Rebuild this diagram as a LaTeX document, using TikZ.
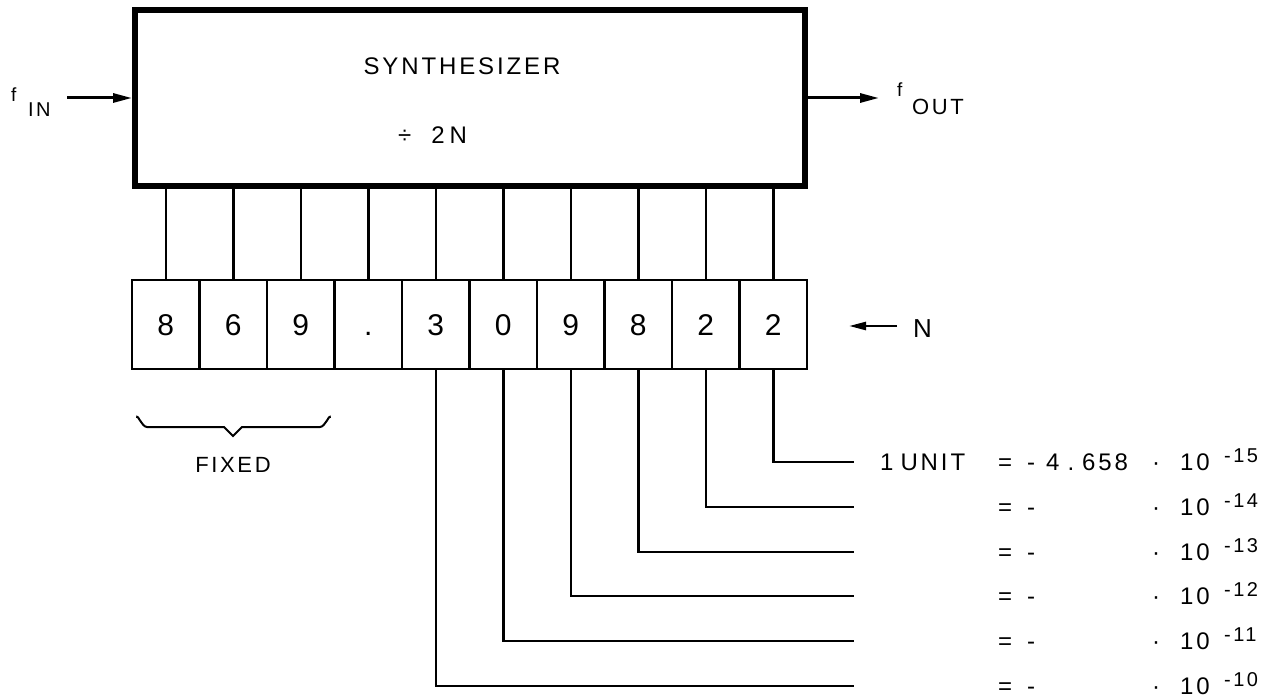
\documentclass[tikz,border=0pt]{standalone}
\usepackage{fontspec}
\setmainfont{Liberation Sans}[LetterSpace=12]
\usetikzlibrary{arrows.meta}

\begin{document}
\begin{tikzpicture}[x=1pt,y=-1pt,
  heavy/.style={draw, line width=6pt, inner sep=0pt,
    minimum width=670pt, minimum height=176pt},
  digitbox/.style={draw, line width=2.5pt, inner sep=0pt,
    minimum width=67.5pt, minimum height=89pt,
    text height=22pt, text depth=0pt,
    font=\fontsize{30}{30}\selectfont},
  wire/.style={line width=2.5pt},
  arr/.style={line width=3pt, -{Triangle[length=19pt,width=9pt]}},
  txt/.style={inner sep=0pt, anchor=base west, font=\fontsize{24}{24}\selectfont},
  suptxt/.style={inner sep=0pt, anchor=base west, font=\fontsize{20}{20}\selectfont},
]
\useasboundingbox (0,0) rectangle (1271,698);

% synthesizer block
\node[heavy] (syn) at (470,98) {};
\node[txt, anchor=base] (title) at (462,75) {SYNTHESIZER};
\node[txt] (div) at (398,143) {÷\kern20pt 2\kern5pt N};

% input and output frequencies
\node[inner sep=0pt, anchor=base west, font=\fontsize{19}{19}\selectfont] (finf) at (11,102) {f};
\node[inner sep=0pt, anchor=base west, font=\fontsize{20}{20}\selectfont] (finsub) at (28,117) {IN};
\coordinate (finstart) at (67,98);
\draw[arr] (finstart) -- (syn.west);

\coordinate (foutend) at (879,98);
\draw[arr] (syn.east) -- (foutend);
\node[inner sep=0pt, anchor=base west, font=\fontsize{19}{19}\selectfont] (foutf) at (897,97) {f};
\node[inner sep=0pt, anchor=base west, font=\fontsize{22}{22}\selectfont] (foutsub) at (912,115) {OUT};

% register holding N
\foreach \d [count=\k from 0] in {8,6,9,.,3,0,9,8,2,2} {
  \node[digitbox] (d\k) at ({165.75+67.5*\k},324.5) {\d};
}
\foreach \k in {0,...,9} {
  \draw[wire] (d\k.north |- syn.south) -- (d\k.north);
}

\node[inner sep=0pt, anchor=base west, font=\fontsize{26}{26}\selectfont] (nlab) at (913,337) {N};
\coordinate (ntail) at (897,326);
\coordinate (ntip) at (849,326);
\draw[line width=2.5pt, -{Triangle[length=17pt,width=8pt]}] (ntail) -- (ntip);

% fixed digits
\draw[line width=2pt] (137,418) to[out=90,in=180] (147,427) -- (224,427)
  -- (233,436) -- (242,427) -- (320,427) to[out=0,in=90] (330,418);
\node[inner sep=0pt, font=\fontsize{22}{22}\selectfont] (fixed) at (233,465) {FIXED};

% weight of each variable digit
\foreach \k/\yy/\e in {9/462/15, 8/507/14, 7/552/13, 6/596/12, 5/641/11, 4/686/10} {
  \coordinate (r\k) at (854,\yy);
  \draw[wire] (d\k.south) |- (r\k);
  \node[txt] (eq\k) at (998,\yy+8) {=};
  \node[txt] (mi\k) at (1027,\yy+8) {-};
  \node[txt] (dot\k) at (1152,\yy+8) {·};
  \node[txt] (ten\k) at (1180,\yy+8) {10};
  \node[suptxt] (ex\k) at (1224,\yy) {-\e};
}
\node[txt] (unit) at (880,470) {1\kern7pt UNIT};
\node[txt] (val) at (1046,470) {4\kern8pt.\kern8pt658};
\end{tikzpicture}
\end{document}
